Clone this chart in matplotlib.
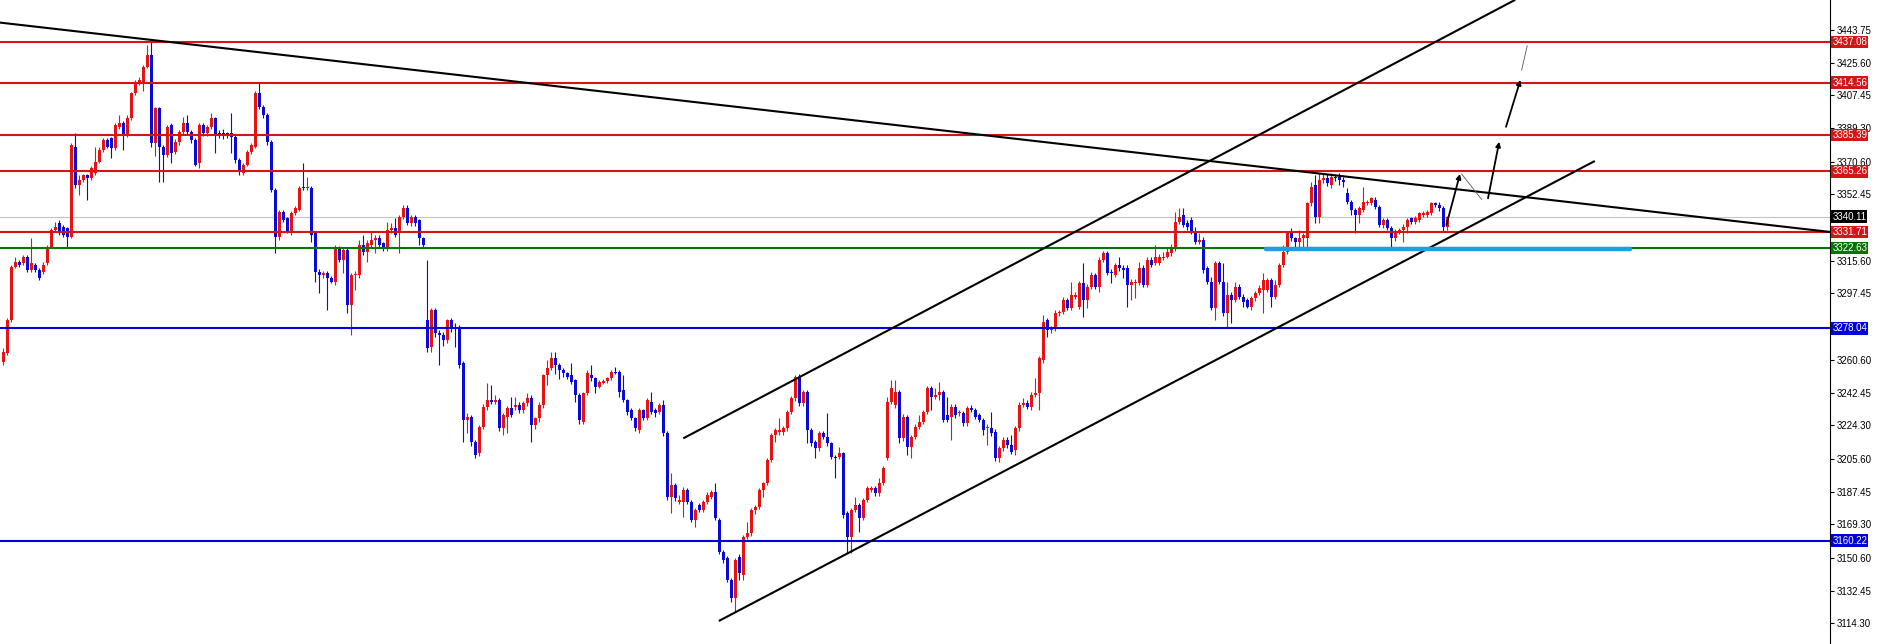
import matplotlib
matplotlib.use("Agg")
import matplotlib.pyplot as plt
from matplotlib.transforms import blended_transform_factory

plt.rcParams['font.family'] = ['Liberation Sans', 'DejaVu Sans']

# H1 candles (one row = 10 bars)
opens = [
    3259.6, 3264.2, 3282.7, 3312.3, 3315.1, 3314.2, 3317.9, 3310.5, 3313.2, 3310.5,
    3309.5, 3314.2, 3323.4, 3332.7, 3336.4, 3334.5, 3333.6, 3329.0, 3379.0, 3357.7,
    3360.4, 3363.2, 3361.4, 3364.1, 3370.6, 3377.1, 3382.7, 3383.6, 3378.0, 3390.1,
    3391.9, 3385.4, 3394.7, 3408.6, 3414.1, 3415.1, 3423.4, 3429.9, 3380.8, 3400.2,
    3379.0, 3374.3, 3391.0, 3376.2, 3381.7, 3387.3, 3391.9, 3387.3, 3382.7, 3369.7,
    3391.0, 3386.4, 3390.1, 3394.7, 3386.4, 3386.4, 3386.4, 3386.4, 3384.5, 3371.6,
    3364.1, 3368.8, 3376.2, 3379.0, 3408.6, 3401.2, 3396.5, 3381.7, 3354.9, 3329.0,
    3342.9, 3339.2, 3331.8, 3341.9, 3343.8, 3356.8, 3355.8, 3355.8, 3330.9, 3309.6,
    3307.7, 3308.6, 3305.9, 3304.0, 3322.5, 3316.0, 3321.6, 3291.1, 3307.7, 3307.7,
    3324.4, 3320.7, 3324.4, 3327.2, 3328.1, 3325.3, 3322.5, 3332.7, 3333.6, 3330.9,
    3340.1, 3344.7, 3336.4, 3340.1, 3338.3, 3328.1, 3282.7, 3267.9, 3288.3, 3275.3,
    3274.4, 3271.6, 3282.7, 3278.6, 3278.1, 3258.7, 3227.2, 3229.0, 3215.2, 3208.7,
    3223.5, 3234.6, 3238.3, 3237.4, 3238.3, 3222.6, 3229.1, 3233.7, 3234.6, 3235.5,
    3232.8, 3236.5, 3239.2, 3224.4, 3228.1, 3235.5, 3252.2, 3255.9, 3261.5, 3257.7,
    3255.0, 3253.1, 3252.2, 3249.4, 3241.1, 3226.3, 3242.0, 3252.2, 3250.3, 3245.7,
    3247.9, 3249.0, 3250.3, 3254.0, 3254.0, 3243.8, 3238.3, 3232.7, 3228.1, 3221.6,
    3232.7, 3228.1, 3237.4, 3232.7, 3231.8, 3235.5, 3219.8, 3184.6, 3191.1, 3181.8,
    3181.8, 3188.3, 3181.8, 3171.7, 3180.0, 3177.2, 3181.8, 3184.6, 3187.4, 3171.7,
    3154.1, 3150.4, 3138.3, 3128.1, 3151.3, 3141.1, 3162.4, 3164.3, 3177.2, 3179.1,
    3188.3, 3192.0, 3205.0, 3218.9, 3220.7, 3220.7, 3222.6, 3231.8, 3239.2, 3251.2,
    3236.4, 3242.9, 3221.6, 3215.1, 3211.4, 3219.8, 3217.9, 3214.2, 3206.8, 3206.8,
    3208.6, 3175.3, 3162.4, 3177.2, 3180.0, 3172.6, 3182.8, 3188.3, 3189.2, 3186.4,
    3192.0, 3206.0, 3237.3, 3235.5, 3242.9, 3217.0, 3229.0, 3212.3, 3217.9, 3223.5,
    3226.2, 3231.8, 3244.7, 3240.1, 3241.0, 3242.9, 3229.9, 3229.0, 3234.6, 3230.9,
    3230.9, 3225.3, 3233.6, 3232.7, 3229.9, 3227.2, 3222.5, 3222.5, 3220.7, 3205.9,
    3211.4, 3216.1, 3213.3, 3210.5, 3222.5, 3235.5, 3236.4, 3234.6, 3241.1, 3242.0,
    3260.5, 3282.7, 3277.1, 3278.1, 3286.4, 3287.3, 3293.8, 3289.2, 3295.7, 3290.1,
    3303.1, 3293.8, 3301.2, 3307.7, 3301.2, 3316.0, 3319.7, 3309.6, 3307.7, 3313.2,
    3311.4, 3311.4, 3302.1, 3303.1, 3303.1, 3311.4, 3302.1, 3316.0, 3314.2, 3314.2,
    3317.0, 3317.9, 3319.7, 3322.5, 3337.3, 3341.0, 3336.4, 3338.2, 3331.8, 3326.2,
    3327.1, 3311.4, 3304.0, 3289.2, 3314.2, 3304.0, 3286.4, 3296.6, 3293.8, 3301.2,
    3295.7, 3293.8, 3290.1, 3294.7, 3297.5, 3299.4, 3299.4, 3304.9, 3295.7, 3302.1,
    3313.2, 3320.6, 3331.7, 3328.0, 3326.2, 3328.0, 3328.0, 3347.5, 3357.7, 3340.1,
    3360.4, 3361.4, 3357.7, 3362.3, 3362.3, 3360.4, 3353.0, 3348.4, 3343.8, 3341.0,
    3343.8, 3347.5, 3347.5, 3349.3, 3345.6, 3335.5, 3338.2, 3333.6, 3328.0, 3331.8,
    3332.7, 3334.5, 3339.2, 3337.3, 3338.2, 3341.0, 3341.0, 3341.9, 3347.5, 3346.6,
    3344.7, 3334.5,
]
highs = [
    3267.0, 3283.6, 3313.2, 3317.9, 3316.0, 3318.8, 3318.8, 3328.1, 3314.2, 3311.4,
    3315.0, 3324.3, 3333.6, 3337.3, 3338.2, 3335.5, 3334.5, 3381.0, 3386.4, 3363.0,
    3364.0, 3364.0, 3368.0, 3379.0, 3379.0, 3383.6, 3383.6, 3384.5, 3392.0, 3396.5,
    3393.0, 3396.5, 3409.5, 3416.0, 3417.8, 3424.3, 3435.4, 3437.3, 3401.0, 3401.0,
    3380.0, 3391.0, 3392.0, 3383.0, 3388.0, 3395.6, 3396.5, 3388.0, 3383.5, 3392.0,
    3392.0, 3391.0, 3397.5, 3395.5, 3388.0, 3389.0, 3387.0, 3397.5, 3385.5, 3372.5,
    3370.0, 3377.0, 3381.0, 3410.0, 3414.1, 3402.0, 3397.5, 3382.5, 3356.0, 3344.0,
    3344.0, 3340.0, 3343.0, 3346.0, 3357.0, 3369.7, 3362.3, 3357.0, 3332.0, 3311.0,
    3310.0, 3310.0, 3307.0, 3324.5, 3324.0, 3323.0, 3323.0, 3309.0, 3310.0, 3327.2,
    3329.9, 3327.0, 3331.8, 3330.0, 3330.0, 3326.0, 3337.3, 3336.4, 3339.2, 3341.0,
    3346.6, 3346.6, 3341.0, 3341.0, 3339.0, 3329.0, 3316.0, 3289.5, 3289.5, 3277.0,
    3276.0, 3283.5, 3284.0, 3281.0, 3280.0, 3260.0, 3231.0, 3230.0, 3216.0, 3224.5,
    3236.0, 3247.6, 3246.6, 3241.0, 3239.5, 3231.0, 3235.0, 3240.0, 3240.0, 3237.0,
    3238.0, 3242.0, 3241.0, 3229.0, 3237.0, 3253.0, 3260.5, 3265.1, 3265.0, 3259.0,
    3256.0, 3254.0, 3258.7, 3250.0, 3242.0, 3243.0, 3255.0, 3257.7, 3251.0, 3249.5,
    3250.0, 3251.0, 3255.0, 3256.8, 3255.0, 3252.2, 3239.0, 3234.0, 3229.0, 3234.0,
    3233.5, 3239.5, 3242.9, 3234.0, 3236.5, 3238.3, 3221.0, 3197.6, 3192.0, 3185.5,
    3190.0, 3189.5, 3183.0, 3178.5, 3181.0, 3183.0, 3187.0, 3188.5, 3192.0, 3173.0,
    3155.0, 3151.5, 3139.5, 3150.5, 3152.5, 3163.5, 3170.7, 3178.5, 3180.0, 3189.5,
    3193.0, 3206.0, 3220.0, 3223.0, 3228.1, 3224.0, 3233.0, 3240.5, 3252.2, 3252.5,
    3244.0, 3244.0, 3222.5, 3216.0, 3221.0, 3221.0, 3230.9, 3215.0, 3208.0, 3212.4,
    3209.5, 3176.5, 3178.5, 3184.6, 3181.0, 3184.0, 3190.5, 3190.5, 3190.5, 3194.8,
    3201.5, 3240.1, 3249.4, 3249.4, 3244.0, 3230.5, 3230.0, 3219.0, 3225.0, 3229.9,
    3233.0, 3246.0, 3246.0, 3244.7, 3248.4, 3244.0, 3240.1, 3236.0, 3236.0, 3233.0,
    3232.0, 3235.0, 3235.5, 3234.0, 3231.0, 3228.5, 3225.0, 3231.8, 3222.0, 3213.0,
    3217.5, 3217.5, 3218.8, 3224.0, 3237.0, 3239.2, 3238.3, 3242.5, 3250.3, 3262.5,
    3285.5, 3284.0, 3279.5, 3288.3, 3288.5, 3295.6, 3295.0, 3304.0, 3298.0, 3304.5,
    3314.2, 3302.5, 3309.6, 3309.0, 3317.5, 3321.0, 3321.0, 3311.0, 3314.5, 3317.9,
    3313.0, 3313.0, 3305.5, 3305.5, 3315.1, 3313.0, 3317.5, 3317.5, 3324.4, 3319.5,
    3320.7, 3323.4, 3325.0, 3342.9, 3344.7, 3344.7, 3338.0, 3340.0, 3334.5, 3330.9,
    3329.0, 3312.5, 3306.8, 3315.5, 3315.5, 3314.2, 3304.0, 3298.4, 3304.0, 3302.5,
    3297.0, 3295.0, 3296.0, 3299.0, 3302.0, 3308.6, 3305.8, 3306.0, 3304.9, 3314.5,
    3324.3, 3332.0, 3333.6, 3329.0, 3332.7, 3331.0, 3348.5, 3359.5, 3363.2, 3364.1,
    3363.8, 3363.8, 3364.1, 3363.5, 3364.1, 3362.0, 3355.8, 3349.5, 3345.0, 3346.0,
    3356.7, 3349.3, 3351.2, 3351.2, 3346.5, 3339.5, 3339.5, 3335.0, 3333.0, 3334.0,
    3336.0, 3339.5, 3340.1, 3340.5, 3342.9, 3343.0, 3344.0, 3348.4, 3348.4, 3348.4,
    3346.0, 3340.5,
]
lows = [
    3257.7, 3263.3, 3281.8, 3311.4, 3312.3, 3313.2, 3309.5, 3309.5, 3309.5, 3304.9,
    3308.0, 3313.0, 3322.5, 3331.8, 3330.0, 3329.0, 3322.5, 3328.0, 3356.0, 3352.1,
    3359.5, 3349.3, 3360.5, 3363.0, 3369.7, 3376.0, 3378.0, 3372.5, 3377.0, 3389.0,
    3377.1, 3384.5, 3393.8, 3407.7, 3413.0, 3410.0, 3422.5, 3379.0, 3374.0, 3359.5,
    3359.5, 3373.0, 3369.7, 3375.0, 3380.0, 3386.0, 3386.0, 3381.0, 3368.0, 3367.0,
    3385.0, 3385.0, 3389.0, 3375.3, 3384.0, 3383.0, 3384.0, 3375.3, 3370.0, 3363.0,
    3363.0, 3368.0, 3375.0, 3378.0, 3400.0, 3395.0, 3380.0, 3354.0, 3319.7, 3327.0,
    3337.0, 3331.0, 3330.0, 3341.0, 3343.0, 3355.0, 3355.0, 3326.2, 3304.0, 3297.5,
    3306.0, 3288.3, 3303.0, 3302.0, 3315.0, 3308.6, 3286.4, 3274.4, 3299.4, 3306.0,
    3319.0, 3315.1, 3323.0, 3319.7, 3323.0, 3321.0, 3321.0, 3331.0, 3329.0, 3319.7,
    3339.0, 3335.5, 3335.0, 3335.0, 3324.4, 3323.5, 3265.0, 3265.0, 3273.0, 3257.7,
    3268.0, 3270.0, 3276.0, 3267.9, 3256.0, 3215.2, 3220.0, 3213.0, 3206.0, 3207.0,
    3222.0, 3233.0, 3236.0, 3236.0, 3221.0, 3219.0, 3220.0, 3229.0, 3233.0, 3231.0,
    3231.0, 3235.0, 3215.2, 3222.0, 3226.0, 3234.0, 3246.6, 3255.0, 3253.0, 3250.0,
    3251.0, 3250.0, 3247.0, 3237.4, 3225.0, 3225.0, 3241.0, 3249.0, 3242.0, 3244.8,
    3247.0, 3248.0, 3249.5, 3252.5, 3240.1, 3237.0, 3230.0, 3227.0, 3221.0, 3220.0,
    3227.0, 3227.0, 3230.5, 3229.0, 3230.5, 3218.5, 3183.0, 3175.4, 3182.0, 3180.5,
    3173.5, 3180.5, 3170.5, 3168.0, 3176.0, 3176.0, 3180.5, 3183.5, 3171.5, 3152.5,
    3148.0, 3137.0, 3126.0, 3120.8, 3138.3, 3138.3, 3161.0, 3163.0, 3175.0, 3178.0,
    3184.6, 3191.0, 3204.0, 3215.2, 3219.0, 3219.0, 3221.0, 3230.5, 3238.0, 3235.0,
    3235.0, 3214.2, 3213.0, 3205.9, 3210.0, 3216.5, 3213.0, 3205.5, 3194.8, 3205.5,
    3173.0, 3153.1, 3153.1, 3176.0, 3165.1, 3171.5, 3181.5, 3187.0, 3185.0, 3185.0,
    3191.0, 3205.0, 3236.0, 3234.0, 3214.2, 3215.5, 3207.7, 3205.9, 3216.5, 3222.0,
    3225.0, 3230.5, 3232.7, 3239.0, 3238.3, 3226.0, 3226.0, 3216.1, 3228.5, 3229.5,
    3224.0, 3224.0, 3231.5, 3228.0, 3226.0, 3218.8, 3213.3, 3218.5, 3204.5, 3204.0,
    3210.0, 3211.5, 3208.5, 3207.7, 3221.0, 3234.5, 3233.5, 3232.7, 3240.0, 3232.7,
    3259.0, 3273.4, 3275.5, 3276.5, 3285.0, 3286.0, 3288.0, 3288.0, 3294.5, 3289.0,
    3284.6, 3289.2, 3300.0, 3300.0, 3298.4, 3315.0, 3307.7, 3303.1, 3306.5, 3310.0,
    3305.8, 3290.1, 3293.8, 3294.7, 3302.0, 3301.0, 3301.0, 3312.0, 3313.0, 3313.0,
    3316.0, 3317.0, 3318.5, 3321.0, 3336.0, 3334.5, 3332.7, 3330.5, 3325.0, 3325.0,
    3309.0, 3302.5, 3288.0, 3282.7, 3302.5, 3285.0, 3279.0, 3280.8, 3292.5, 3294.5,
    3290.1, 3289.2, 3288.5, 3293.5, 3296.5, 3286.4, 3298.0, 3290.1, 3294.5, 3301.0,
    3312.0, 3319.5, 3326.5, 3323.4, 3323.4, 3323.4, 3323.4, 3346.0, 3336.4, 3336.4,
    3359.0, 3357.0, 3356.0, 3360.0, 3357.7, 3356.7, 3347.0, 3341.0, 3330.8, 3336.4,
    3342.5, 3346.5, 3346.5, 3344.5, 3334.5, 3334.0, 3332.5, 3323.4, 3326.5, 3330.5,
    3326.2, 3330.8, 3336.0, 3336.0, 3337.0, 3340.0, 3340.0, 3341.0, 3345.5, 3343.5,
    3331.7, 3332.7,
]
closes = [
    3265.1, 3282.7, 3312.3, 3315.1, 3313.2, 3317.9, 3310.5, 3314.2, 3310.5, 3305.8,
    3313.2, 3323.4, 3332.7, 3334.5, 3330.8, 3329.9, 3329.0, 3379.9, 3357.7, 3360.4,
    3363.2, 3361.4, 3366.9, 3370.6, 3377.1, 3382.7, 3379.0, 3378.0, 3391.0, 3391.9,
    3385.4, 3394.7, 3408.6, 3414.1, 3416.0, 3423.4, 3429.9, 3380.8, 3400.2, 3379.0,
    3374.3, 3390.1, 3375.3, 3381.7, 3387.3, 3391.9, 3387.3, 3382.7, 3368.8, 3391.0,
    3386.4, 3390.1, 3394.7, 3385.4, 3385.4, 3385.4, 3385.4, 3384.5, 3371.6, 3366.0,
    3368.8, 3376.2, 3379.9, 3408.6, 3401.2, 3396.5, 3381.7, 3354.9, 3329.0, 3342.9,
    3338.2, 3331.8, 3341.9, 3344.7, 3355.8, 3355.8, 3356.8, 3329.9, 3309.6, 3307.7,
    3308.6, 3305.9, 3304.0, 3323.5, 3316.0, 3321.6, 3291.1, 3307.7, 3308.5, 3324.4,
    3320.7, 3325.3, 3327.2, 3328.1, 3324.4, 3322.5, 3332.7, 3333.6, 3329.9, 3340.1,
    3344.7, 3336.4, 3340.1, 3336.4, 3328.1, 3324.4, 3267.0, 3288.3, 3275.3, 3274.4,
    3271.6, 3282.7, 3278.1, 3277.6, 3257.7, 3227.2, 3229.0, 3215.2, 3207.8, 3223.5,
    3234.6, 3238.3, 3237.4, 3238.3, 3222.6, 3230.0, 3233.7, 3230.0, 3235.5, 3232.8,
    3236.5, 3239.2, 3224.4, 3228.1, 3235.5, 3252.2, 3255.9, 3261.5, 3257.7, 3255.0,
    3253.1, 3251.3, 3248.5, 3241.1, 3227.2, 3242.0, 3253.1, 3250.3, 3245.7, 3248.5,
    3249.0, 3250.3, 3254.0, 3253.5, 3242.9, 3238.3, 3231.8, 3228.1, 3222.6, 3232.7,
    3228.1, 3238.3, 3231.8, 3230.9, 3235.5, 3219.8, 3184.6, 3191.1, 3183.7, 3182.8,
    3188.3, 3181.8, 3171.7, 3177.2, 3177.2, 3181.8, 3185.5, 3187.4, 3172.6, 3154.1,
    3149.4, 3138.3, 3128.1, 3149.4, 3142.0, 3162.4, 3164.3, 3177.2, 3179.1, 3188.3,
    3192.0, 3205.0, 3218.9, 3221.6, 3221.6, 3222.6, 3231.8, 3239.2, 3251.2, 3236.4,
    3242.9, 3221.6, 3214.2, 3211.4, 3219.8, 3217.9, 3214.2, 3206.8, 3205.9, 3208.6,
    3174.4, 3162.4, 3177.2, 3180.0, 3172.6, 3182.8, 3189.2, 3189.2, 3186.4, 3192.0,
    3200.3, 3237.3, 3244.7, 3242.9, 3217.0, 3229.0, 3212.3, 3217.9, 3223.5, 3226.2,
    3231.8, 3244.7, 3240.1, 3241.0, 3242.9, 3227.2, 3227.2, 3234.6, 3229.9, 3231.8,
    3225.3, 3233.6, 3232.7, 3229.0, 3227.2, 3221.6, 3223.5, 3219.8, 3205.9, 3211.4,
    3216.1, 3213.3, 3209.6, 3222.5, 3235.5, 3236.4, 3234.6, 3241.1, 3242.0, 3261.4,
    3281.8, 3277.1, 3278.1, 3286.4, 3287.3, 3293.8, 3289.2, 3296.6, 3296.6, 3303.1,
    3293.8, 3301.2, 3307.7, 3301.2, 3316.0, 3319.7, 3308.6, 3308.6, 3313.2, 3311.4,
    3310.5, 3302.1, 3304.0, 3304.0, 3311.4, 3302.1, 3316.0, 3313.2, 3317.9, 3317.9,
    3317.9, 3320.7, 3323.4, 3337.3, 3340.1, 3335.5, 3334.5, 3331.8, 3326.2, 3327.1,
    3310.5, 3304.0, 3289.2, 3314.2, 3304.0, 3286.4, 3296.6, 3293.8, 3301.2, 3295.7,
    3292.9, 3290.1, 3294.7, 3297.5, 3300.3, 3304.9, 3304.9, 3295.7, 3302.1, 3313.2,
    3320.6, 3330.8, 3328.0, 3326.2, 3328.0, 3329.9, 3347.5, 3356.7, 3340.1, 3360.4,
    3361.4, 3358.6, 3362.3, 3361.4, 3360.4, 3359.5, 3348.4, 3343.8, 3341.0, 3344.7,
    3348.4, 3348.4, 3350.3, 3345.6, 3335.5, 3338.2, 3333.6, 3328.0, 3331.8, 3332.7,
    3334.5, 3338.2, 3337.3, 3339.2, 3341.9, 3341.9, 3342.9, 3347.5, 3346.6, 3344.7,
    3334.5, 3340.1,
]

# horizontal levels and their label colours
level_prices = [3437.08, 3414.56, 3385.39, 3365.26, 3331.71, 3322.63, 3278.04, 3160.22]
level_colors = ['#d41515', '#d41515', '#d41515', '#d41515', '#d41515',
                '#007800', '#0000dd', '#0000dd']
last_price = 3340.11

axis_ticks = [3443.75, 3425.60, 3407.45, 3389.30, 3370.60, 3352.45, 3315.60,
              3297.45, 3260.60, 3242.45, 3224.30, 3205.60, 3187.45, 3169.30,
              3150.60, 3132.45, 3114.30]
top_tick = 3461.90

# trend lines: (bar index, price) start and end
trend_lines = [
    ((-1.0, 3447.9), (456.7, 3331.6)),   # falling resistance from the top
    ((170.0, 3217.0), (378.0, 3460.5)),  # channel top
    ((178.9, 3115.6), (397.9, 3371.0)),  # channel bottom
]
support_zone = ((315.8, 406.7), 3322.4)

# drawn arrows (bar index, price)
arrows = [
    ((360.8, 3335.5), (364.2, 3363.8)),
    ((371.2, 3350.3), (374.0, 3381.7)),
    ((375.7, 3390.0), (379.3, 3416.0)),
]
thin_strokes = [
    ((364.6, 3363.8), (369.6, 3349.7)),
    ((379.6, 3421.5), (381.0, 3434.9)),
]

UP = '#e41414'
DOWN = '#0a0ad8'

W, H = 1877, 644
fig = plt.figure(figsize=(W / 100, H / 100), dpi=100)
ax = fig.add_axes([0, 0, 1830 / W, 1])
ax.set_xlim(-0.83, 456.7)
ax.set_ylim(3102.8, 3460.4)

n = len(closes)
assert len(opens) == n and len(highs) == n and len(lows) == n
xs = list(range(n))
cols = [UP if c >= o else DOWN for o, c in zip(opens, closes)]
bottoms = [min(o, c) for o, c in zip(opens, closes)]
heights = [max(abs(c - o), 0.6) for o, c in zip(opens, closes)]

ax.vlines(xs, lows, highs, colors=cols, lw=0.8, zorder=2)
ax.bar(xs, heights, bottom=bottoms, width=0.72, color=cols, lw=0, zorder=3)

# levels
trans = blended_transform_factory(ax.transAxes, ax.transData)
ax.axhline(last_price, color='#c4c4c4', lw=0.8, zorder=1)
for p, c in zip(level_prices, level_colors):
    ax.axhline(p, color=c, lw=1.5, zorder=4)

# trend lines
for (x0, y0), (x1, y1) in trend_lines:
    ax.plot([x0, x1], [y0, y1], color='black', lw=1.5, zorder=5,
            solid_capstyle='butt')

(sx0, sx1), sy = support_zone
ax.plot([sx0, sx1], [sy, sy], color='#1e9ee6', lw=3.2, zorder=6,
        solid_capstyle='round')

for (x0, y0), (x1, y1) in arrows:
    ax.annotate('', xy=(x1, y1), xytext=(x0, y0),
                arrowprops=dict(arrowstyle='-|>', color='black', lw=1.3,
                                mutation_scale=7, shrinkA=0, shrinkB=0),
                zorder=7)
for (x0, y0), (x1, y1) in thin_strokes:
    ax.plot([x0, x1], [y0, y1], color='#555555', lw=0.6, zorder=7)

# axis look (MetaTrader style)
for s in ('left', 'top', 'bottom'):
    ax.spines[s].set_visible(False)
ax.spines['right'].set_linewidth(0.8)
ax.set_xticks([])
ax.yaxis.tick_right()
ax.set_yticks(axis_ticks)
ax.set_yticklabels([f'{v:.2f}' for v in axis_ticks])
ax.tick_params(axis='y', length=3, width=0.8, pad=1.5, labelsize=7)
ax.text(1.0038, top_tick, f'{top_tick:.2f}', transform=trans, ha='left',
        va='center', fontsize=7, clip_on=False)

# price boxes on the scale
box_kw = dict(boxstyle='square,pad=0.12', ec='none')
for p, c in zip(level_prices, level_colors):
    ax.text(1.0012, p, f'{p:.2f}', transform=trans, ha='left', va='center',
            fontsize=7, color='white', clip_on=False, zorder=10,
            bbox=dict(fc=c, **box_kw))
ax.text(1.0012, last_price, f'{last_price:.2f}', transform=trans, ha='left',
        va='center', fontsize=7, color='white', clip_on=False, zorder=10,
        bbox=dict(fc='black', **box_kw))

fig.savefig('out.png', dpi=100)
